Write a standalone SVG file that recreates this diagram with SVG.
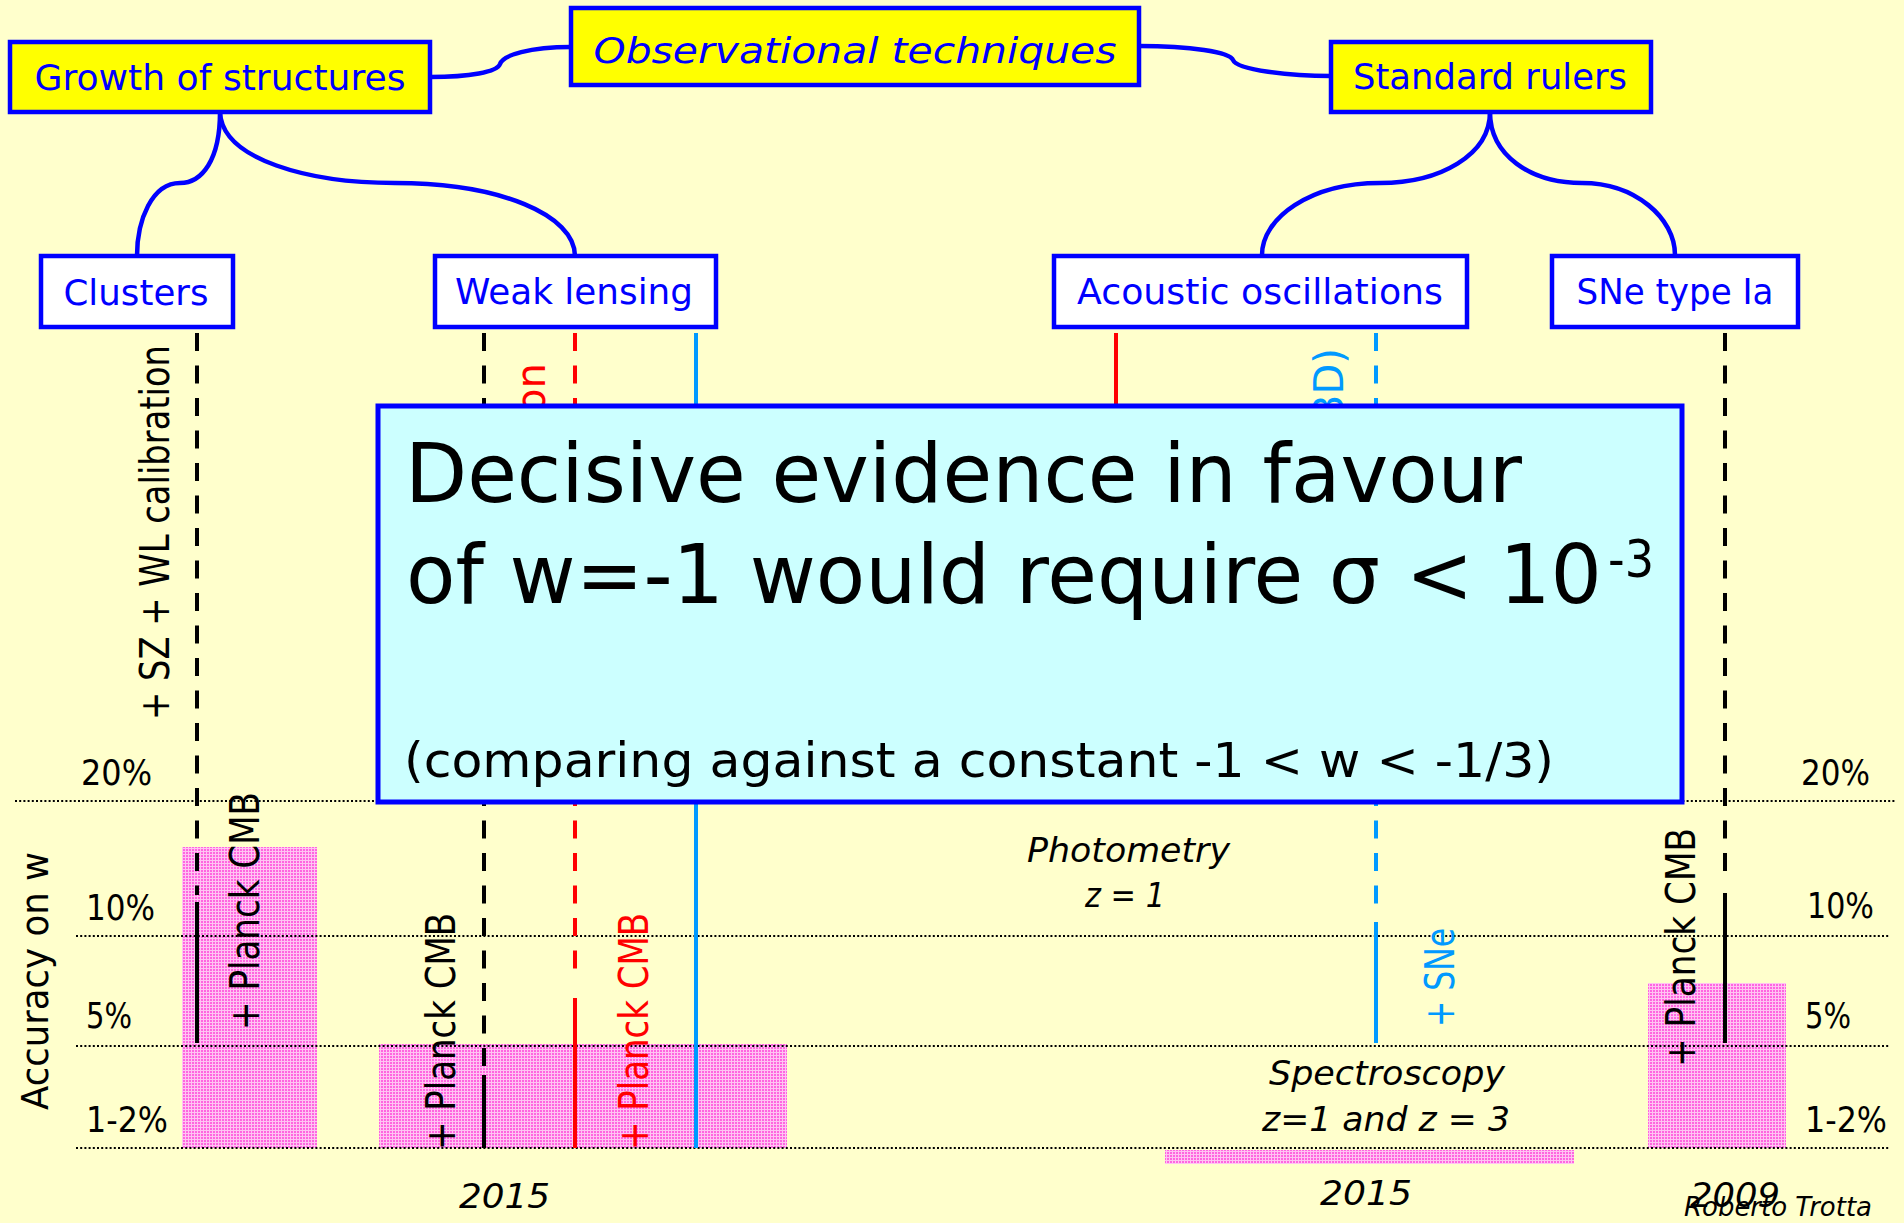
<svg xmlns="http://www.w3.org/2000/svg" width="1904" height="1223" viewBox="0 0 1904 1223">
<defs>
<pattern id="pink" width="3" height="3" patternUnits="userSpaceOnUse"><rect width="3" height="3" fill="#FFC4F2"/><rect width="2" height="2" fill="#FF66E0"/></pattern>
<style>
.t{font-family:"DejaVu Sans",Verdana,sans-serif}
.box{fill:#FFFF00;stroke:#0000FF;stroke-width:4.5}
.wbox{fill:#FFFFFF;stroke:#0000FF;stroke-width:4.5}
.lbl{font-size:36px;fill:#0000FF;text-anchor:middle}
.conn{fill:none;stroke:#0000FF;stroke-width:4.5}
.dot{stroke:#000;stroke-width:2.2;stroke-dasharray:2 2.2;fill:none}
.dash{stroke-dasharray:18 14.5}
.v{stroke-width:4;fill:none}
.pct{font-size:36px;fill:#000}
.rot{font-size:40px}
.it{font-style:italic;fill:#000}
</style>
</defs>
<rect width="1904" height="1223" fill="#FFFFCC"/>
<g id="shaded">
<rect x="182" y="847" width="135" height="301" fill="url(#pink)"/>
<rect x="379" y="1044" width="408" height="104" fill="url(#pink)"/>
<rect x="1165" y="1150" width="409" height="14" fill="url(#pink)"/>
<rect x="1648" y="983" width="138" height="165" fill="url(#pink)"/>
</g>
<g id="gridlines">
<path class="dot" d="M15,801H1895"/>
<path class="dot" d="M76,936H1890"/>
<path class="dot" d="M76,1046H1890"/>
<path class="dot" d="M76,1148H1890"/>
</g>
<g id="verticals">
<path class="v dash" stroke="#000" d="M197,333V895"/>
<path class="v" stroke="#000" d="M197,902V1043"/>
<path class="v dash" stroke="#000" d="M484,333V1066"/>
<path class="v" stroke="#000" d="M484,1075V1148"/>
<path class="v dash" stroke="#FF0000" d="M575,333V969"/>
<path class="v" stroke="#FF0000" d="M575,998V1148"/>
<path class="v" stroke="#0099FF" d="M696,333V1148"/>
<path class="v" stroke="#FF0000" d="M1116,333V420"/>
<path class="v dash" stroke="#0099FF" d="M1376,333V905"/>
<path class="v" stroke="#0099FF" d="M1376,922V1043"/>
<path class="v dash" stroke="#000" d="M1725,333V873"/>
<path class="v" stroke="#000" d="M1725,893V1043"/>
</g>
<g id="rotlabels" class="t">
<text class="rot" fill="#000" transform="translate(169,720) rotate(-90)" textLength="375" lengthAdjust="spacingAndGlyphs">+ SZ + WL calibration</text>
<text class="rot" fill="#FF0000" font-size="38" transform="translate(545,413) rotate(-90)">on</text>
<text class="rot" fill="#0099FF" font-size="38" transform="translate(1343,420) rotate(-90)">3D)</text>
<text class="rot" fill="#000" transform="translate(259,1030) rotate(-90)" textLength="238" lengthAdjust="spacingAndGlyphs">+ Planck CMB</text>
<text class="rot" fill="#000" transform="translate(455,1150) rotate(-90)" textLength="237" lengthAdjust="spacingAndGlyphs">+ Planck CMB</text>
<text class="rot" fill="#FF0000" transform="translate(648,1150) rotate(-90)" textLength="237" lengthAdjust="spacingAndGlyphs">+ Planck CMB</text>
<text class="rot" fill="#0099FF" transform="translate(1454,1027) rotate(-90)" textLength="99" lengthAdjust="spacingAndGlyphs">+ SNe</text>
<text class="rot" fill="#000" transform="translate(1695,1067) rotate(-90)" textLength="239" lengthAdjust="spacingAndGlyphs">+ Planck CMB</text>
<text font-size="38" fill="#000" transform="translate(48,1110) rotate(-90)" textLength="258" lengthAdjust="spacingAndGlyphs">Accuracy on w</text>
</g>
<g id="percent" class="t">
<text class="pct" x="81" y="785" textLength="71" lengthAdjust="spacingAndGlyphs">20%</text>
<text class="pct" x="86" y="920" textLength="69" lengthAdjust="spacingAndGlyphs">10%</text>
<text class="pct" x="86" y="1028" textLength="46" lengthAdjust="spacingAndGlyphs">5%</text>
<text class="pct" x="86" y="1132" textLength="82" lengthAdjust="spacingAndGlyphs">1-2%</text>
<text class="pct" x="1801" y="785" textLength="69" lengthAdjust="spacingAndGlyphs">20%</text>
<text class="pct" x="1807" y="918" textLength="67" lengthAdjust="spacingAndGlyphs">10%</text>
<text class="pct" x="1805" y="1028" textLength="46" lengthAdjust="spacingAndGlyphs">5%</text>
<text class="pct" x="1805" y="1132" textLength="82" lengthAdjust="spacingAndGlyphs">1-2%</text>
</g>
<g id="notes" class="t">
<text class="it" font-size="34" x="1027" y="862" textLength="203" lengthAdjust="spacingAndGlyphs">Photometry</text>
<text class="it" font-size="34" x="1085" y="907" textLength="80" lengthAdjust="spacingAndGlyphs">z = 1</text>
<text class="it" font-size="34" x="1269" y="1085" textLength="236" lengthAdjust="spacingAndGlyphs">Spectroscopy</text>
<text class="it" font-size="34" x="1262" y="1131" textLength="248" lengthAdjust="spacingAndGlyphs">z=1 and z = 3</text>
<text class="it" font-size="33" x="459" y="1208" textLength="91" lengthAdjust="spacingAndGlyphs">2015</text>
<text class="it" font-size="33" x="1320" y="1205" textLength="92" lengthAdjust="spacingAndGlyphs">2015</text>
<text class="it" font-size="33" x="1690" y="1207" textLength="90" lengthAdjust="spacingAndGlyphs">2009</text>
<text class="it" font-size="26" x="1684" y="1216" textLength="188" lengthAdjust="spacingAndGlyphs">Roberto Trotta</text>
</g>
<g id="callout" class="t">
<rect x="378" y="406" width="1304" height="396" fill="#CCFFFF" stroke="#0000FF" stroke-width="5"/>
<text font-size="82" fill="#000" x="405" y="502" textLength="1117" lengthAdjust="spacingAndGlyphs">Decisive evidence in favour</text>
<text font-size="82" fill="#000" x="406" y="603" textLength="1196" lengthAdjust="spacingAndGlyphs">of w=-1 would require σ &lt; 10</text>
<text font-size="52" fill="#000" x="1608" y="577" textLength="46" lengthAdjust="spacingAndGlyphs">-3</text>
<text font-size="48" fill="#000" x="404" y="777" textLength="1150" lengthAdjust="spacingAndGlyphs">(comparing against a constant -1 &lt; w &lt; -1/3)</text>
</g>
<g id="connectors">
<path class="conn" d="M430,77 C470,77 497,72 500,64 C503,55 530,47 571,47"/>
<path class="conn" d="M1139,46 C1190,46 1230,52 1233,60 C1237,70 1290,76 1331,76"/>
<path class="conn" d="M220,112 C220,160 202,183 180,183 C152,183 137,220 137,256"/>
<path class="conn" d="M220,112 C222,160 310,183 395,183 C500,183 575,215 575,256"/>
<path class="conn" d="M1490,112 C1490,155 1440,183 1380,183 C1310,183 1262,218 1262,255"/>
<path class="conn" d="M1490,112 C1490,155 1530,183 1582,183 C1635,183 1675,218 1675,255"/>
</g>
<g id="obs" class="t"><rect class="box" x="571" y="8" width="568" height="77"/><text class="lbl" font-size="42" font-style="italic" x="855" y="63" textLength="523" lengthAdjust="spacingAndGlyphs">Observational techniques</text></g>
<g id="growth" class="t"><rect class="box" x="10" y="42" width="420" height="70"/><text class="lbl" x="220" y="90" textLength="371" lengthAdjust="spacingAndGlyphs">Growth of structures</text></g>
<g id="rulers" class="t"><rect class="box" x="1331" y="42" width="320" height="70"/><text class="lbl" x="1490" y="89" textLength="274" lengthAdjust="spacingAndGlyphs">Standard rulers</text></g>
<g id="clusters" class="t"><rect class="wbox" x="41" y="256" width="192" height="71"/><text class="lbl" x="136" y="305" textLength="145" lengthAdjust="spacingAndGlyphs">Clusters</text></g>
<g id="weaklensing" class="t"><rect class="wbox" x="435" y="256" width="281" height="71"/><text class="lbl" x="574" y="304" textLength="238" lengthAdjust="spacingAndGlyphs">Weak lensing</text></g>
<g id="acoustic" class="t"><rect class="wbox" x="1054" y="256" width="413" height="71"/><text class="lbl" x="1260" y="304" textLength="366" lengthAdjust="spacingAndGlyphs">Acoustic oscillations</text></g>
<g id="sne" class="t"><rect class="wbox" x="1552" y="256" width="246" height="71"/><text class="lbl" x="1675" y="304" textLength="197" lengthAdjust="spacingAndGlyphs">SNe type Ia</text></g>
</svg>
